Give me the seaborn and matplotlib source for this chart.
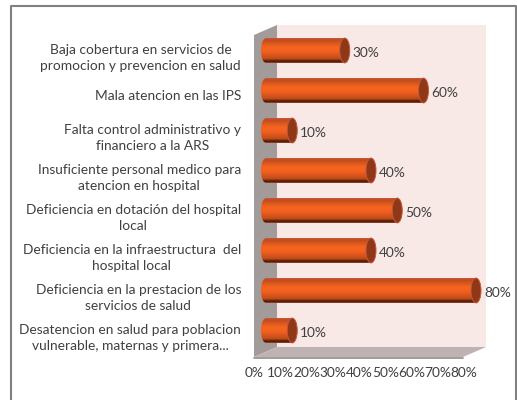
import numpy as np
import pandas as pd
import seaborn as sns
import matplotlib.pyplot as plt
from matplotlib.patches import Ellipse, Polygon, Rectangle
from matplotlib.lines import Line2D
from matplotlib.colors import LinearSegmentedColormap
from matplotlib.transforms import Affine2D, ScaledTranslation

categorias = [
    'Baja cobertura en servicios de\npromocion y prevencion en salud',
    'Mala atencion en las IPS',
    'Falta control administrativo y\nfinanciero a la ARS',
    'Insuficiente personal medico para\natencion en hospital',
    'Deficiencia en dotación del hospital\nlocal',
    'Deficiencia en la infraestructura  del\nhospital local',
    'Deficiencia en la prestacion de los\nservicios de salud',
    'Desatencion en salud para poblacion\nvulnerable, maternas y primera...',
]
valores = [30, 60, 10, 40, 50, 40, 80, 10]
ticks = [0, 10, 20, 30, 40, 50, 60, 70, 80]

sns.set_theme(style='white')
plt.rcParams['font.family'] = ['Lato', 'DejaVu Sans']
plt.rcParams['text.color'] = '#404040'

df = pd.DataFrame({'causa': categorias, 'pct': valores})

fig = plt.figure(figsize=(5.17, 4.0), dpi=100, facecolor='white')
px = Affine2D().scale(1, -1).translate(0, 400)

# marco y paredes 3D en pixeles
fig.add_artist(Line2D([11, 11, 516, 516], [400, 5.5, 5.5, 400], transform=px,
                      color='#808080', lw=1.5, zorder=0))
fig.add_artist(Polygon([(277, 25), (486, 25), (486, 347), (277, 347)], transform=px,
                       fc='#F8E9E6', ec='none', zorder=0))
fig.add_artist(Polygon([(254, 35), (277, 25), (277, 347), (254, 357)], transform=px,
                       fc='#A39B9A', ec='none', zorder=0))
fig.add_artist(Polygon([(254, 357), (277, 347), (486, 347), (463, 357)], transform=px,
                       fc='#BEB3B2', ec='none', zorder=0))
fig.add_artist(Line2D([254, 463], [357.5, 357.5], transform=px, color='#8C8C8C', lw=1.2, zorder=0))

ax = fig.add_axes([266 / 517, 1 - 350.5 / 400, 210 / 517, 320 / 400], zorder=1)
ax.patch.set_visible(False)

sns.barplot(data=df, x='pct', y='causa', orient='h', color='#F26322', width=0.62,
            saturation=1, ax=ax)

# degradado del cilindro
cmap = LinearSegmentedColormap.from_list('cil', [
    (0.0, '#C4573A'), (0.08, '#C24C1E'), (0.36, '#F6651F'), (0.55, '#F26020'),
    (0.84, '#BE4A1A'), (0.90, '#6A2608'), (0.97, '#4E1B06'), (1.0, '#B0503A')])
grad = np.linspace(0, 1, 64).reshape(-1, 1)
cap_w = 10 / 2.625

for i, bar in enumerate(ax.patches):
    x_end = bar.get_width()
    y0 = bar.get_y()
    h = bar.get_height()
    yc = y0 + h / 2
    bar.set_visible(False)
    # cuerpo y extremo izquierdo
    im = ax.imshow(grad, extent=(-cap_w, x_end, y0 + h, y0), cmap=cmap, aspect='auto', zorder=2)
    im.set_clip_path(Rectangle((0, y0), x_end, h, transform=ax.transData))
    im2 = ax.imshow(grad, extent=(-cap_w, x_end, y0 + h, y0), cmap=cmap, aspect='auto', zorder=2)
    im2.set_clip_box(fig.bbox)
    im2.set_clip_path(Ellipse((0, yc), cap_w, h, transform=ax.transData))
    ax.add_patch(Ellipse((x_end, yc), cap_w, h, fc='#8E3818', ec='#C4573A', lw=0.7, zorder=3,
                         clip_on=False))
    ax.annotate(f'{valores[i]}%', (x_end, yc), xytext=(8, -2.5), textcoords='offset pixels',
                ha='left', va='center', fontsize=9.9, color='#404040', zorder=4,
                annotation_clip=False)

ax.set_xlim(0, 80)
ax.set_ylim(7.5, -0.5)
ax.set_xlabel('')
ax.set_ylabel('')
ax.set_xticks(ticks)
ax.set_xticklabels([f'{t}%' for t in ticks], fontsize=9.9, color='#404040')
ax.tick_params(axis='x', length=0, pad=12)
ax.tick_params(axis='y', length=0, pad=18)
for lab in ax.get_yticklabels():
    lab.set_fontsize(9.9)
    lab.set_color('#404040')
    lab.set_multialignment('center')
    lab.set_linespacing(1.4)
    lab.set_transform(lab.get_transform() + ScaledTranslation(0, -4.5 / 100, fig.dpi_scale_trans))
for lab in ax.get_xticklabels():
    lab.set_transform(lab.get_transform() + ScaledTranslation(-12 / 100, 0, fig.dpi_scale_trans))
for s in ax.spines.values():
    s.set_visible(False)

fig.savefig('out.png', dpi=100)
